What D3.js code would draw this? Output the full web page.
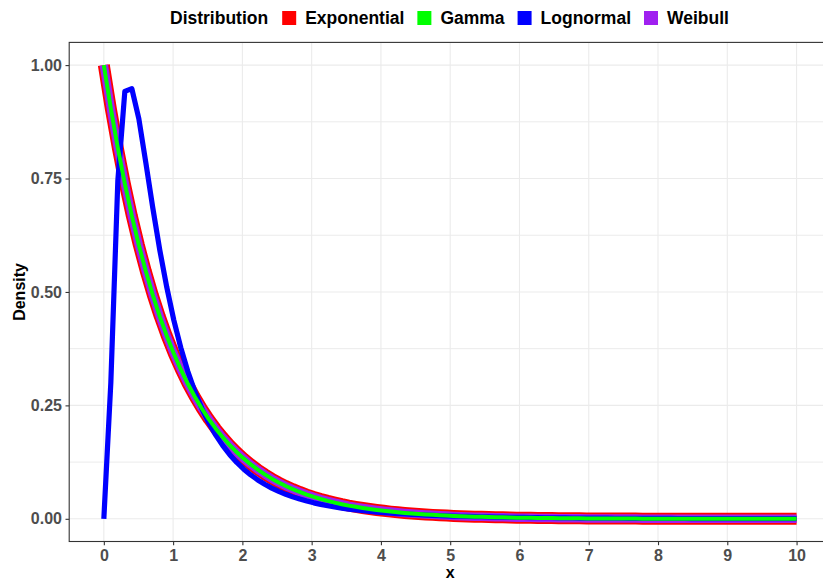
<!DOCTYPE html>
<html>
<head>
<meta charset="utf-8">
<script src="https://cdn.jsdelivr.net/npm/d3@7"></script>
<style>
  html, body { margin: 0; padding: 0; background: #ffffff; }
  svg { display: block; font-family: "Liberation Sans", Arial, Helvetica, sans-serif; }
</style>
</head>
<body>
<svg id="chart" width="823" height="585"></svg>
<script>
// Evaluation grid: 100 evenly spaced points on [0, 10]
const xGrid = d3.range(100).map(i => i * 10 / 99);

// Exponential(rate = 1) density on the grid.
// Gamma(shape = 1, rate = 1) and Weibull(shape = 1, scale = 1) give the same curve.
const exponentialDensity = [
  1.0000, 0.9039, 0.8171, 0.7386, 0.6676, 0.6035, 0.5455, 0.4931, 0.4457, 0.4029,
  0.3642, 0.3292, 0.2976, 0.2690, 0.2431, 0.2198, 0.1987, 0.1796, 0.1623, 0.1467,
  0.1326, 0.1199, 0.1084, 0.0980, 0.0885, 0.0800, 0.0723, 0.0654, 0.0591, 0.0534,
  0.0483, 0.0437, 0.0395, 0.0357, 0.0322, 0.0291, 0.0264, 0.0238, 0.0215, 0.0195,
  0.0176, 0.0159, 0.0144, 0.0130, 0.0117, 0.0106, 0.0096, 0.0087, 0.0078, 0.0071,
  0.0064, 0.0058, 0.0052, 0.0047, 0.0043, 0.0039, 0.0035, 0.0032, 0.0029, 0.0026,
  0.0023, 0.0021, 0.0019, 0.0017, 0.0016, 0.0014, 0.0013, 0.0012, 0.0010, 0.0009,
  0.0009, 0.0008, 0.0007, 0.0006, 0.0006, 0.0005, 0.0005, 0.0004, 0.0004, 0.0003,
  0.0003, 0.0003, 0.0003, 0.0002, 0.0002, 0.0002, 0.0002, 0.0001, 0.0001, 0.0001,
  0.0001, 0.0001, 0.0001, 0.0001, 0.0001, 0.0001, 0.0001, 0.0001, 0.0001, 0.0001
];
const gammaDensity = exponentialDensity;
const weibullDensity = exponentialDensity;

// Lognormal density on the grid
const lognormalDensity = [
  0.0000, 0.3000, 0.7450, 0.9420, 0.9480, 0.8820, 0.7850, 0.6850, 0.5920, 0.5100,
  0.4380, 0.3770, 0.3250, 0.2810, 0.2436, 0.2117, 0.1845, 0.1613, 0.1414, 0.1242,
  0.1095, 0.0967, 0.0857, 0.0761, 0.0677, 0.0604, 0.0540, 0.0484, 0.0435, 0.0391,
  0.0352, 0.0318, 0.0288, 0.0261, 0.0237, 0.0215, 0.0196, 0.0178, 0.0163, 0.0149,
  0.0136, 0.0125, 0.0115, 0.0106, 0.0098, 0.0090, 0.0083, 0.0076, 0.0070, 0.0065,
  0.0060, 0.0056, 0.0052, 0.0049, 0.0045, 0.0042, 0.0039, 0.0037, 0.0034, 0.0032,
  0.0030, 0.0028, 0.0026, 0.0024, 0.0023, 0.0021, 0.0020, 0.0018, 0.0017, 0.0016,
  0.0015, 0.0014, 0.0013, 0.0012, 0.0012, 0.0011, 0.0010, 0.0010, 0.0009, 0.0009,
  0.0008, 0.0008, 0.0007, 0.0007, 0.0006, 0.0006, 0.0006, 0.0005, 0.0005, 0.0005,
  0.0005, 0.0004, 0.0004, 0.0004, 0.0004, 0.0004, 0.0003, 0.0003, 0.0003, 0.0003
];

const distributions = ["Exponential", "Gamma", "Lognormal", "Weibull"];
const distributionColors = ["#FF0000", "#00FF00", "#0000FF", "#A020F0"];

const xTicks = [0, 1, 2, 3, 4, 5, 6, 7, 8, 9, 10];
const yTicks = [0, 0.25, 0.5, 0.75, 1.0];
const yTickLabels = ["0.00", "0.25", "0.50", "0.75", "1.00"];
const yMinorTicks = [0.125, 0.375, 0.625, 0.875];

// Layers drawn back to front; each wider stroke shows as a rim around the next
const layers = [
  { name: "Exponential", values: exponentialDensity, width: 12 },
  { name: "Weibull",     values: weibullDensity,     width: 8.5 },
  { name: "Lognormal",   values: lognormalDensity,   width: 5.2 },
  { name: "Gamma",       values: gammaDensity,       width: 4 }
];

const svg = d3.select("#chart");
const W = 823, H = 585;
const panel = { left: 69.2, right: 831.2, top: 42.4, bottom: 541.5 };

const color = d3.scaleOrdinal().domain(distributions).range(distributionColors);
const x = d3.scaleLinear().domain([-0.5, 10.5]).range([panel.left, panel.right]);
const y = d3.scaleLinear().domain([-0.05, 1.05]).range([panel.bottom, panel.top]);

svg.append("rect").attr("width", W).attr("height", H).attr("fill", "#ffffff");

// Clip everything inside the panel
svg.append("defs").append("clipPath").attr("id", "panel-clip")
  .append("rect")
  .attr("x", panel.left).attr("y", panel.top)
  .attr("width", panel.right - panel.left).attr("height", panel.bottom - panel.top);

const grid = svg.append("g").attr("clip-path", "url(#panel-clip)");
grid.selectAll("line.yminor").data(yMinorTicks).join("line")
  .attr("x1", panel.left).attr("x2", panel.right)
  .attr("y1", d => y(d)).attr("y2", d => y(d))
  .attr("stroke", "#ebebeb").attr("stroke-width", 1);
grid.selectAll("line.ymajor").data(yTicks).join("line")
  .attr("x1", panel.left).attr("x2", panel.right)
  .attr("y1", d => y(d)).attr("y2", d => y(d))
  .attr("stroke", "#ebebeb").attr("stroke-width", 1.1);
grid.selectAll("line.xmajor").data(xTicks).join("line")
  .attr("y1", panel.top).attr("y2", panel.bottom)
  .attr("x1", d => x(d)).attr("x2", d => x(d))
  .attr("stroke", "#ebebeb").attr("stroke-width", 1.1);

// Density curves
const line = d3.line().x((d, i) => x(xGrid[i])).y(d => y(d));
const curves = svg.append("g").attr("clip-path", "url(#panel-clip)");
layers.forEach(l => {
  curves.append("path")
    .datum(l.values)
    .attr("d", line)
    .attr("fill", "none")
    .attr("stroke", color(l.name))
    .attr("stroke-width", l.width)
    .attr("stroke-linejoin", "round")
    .attr("stroke-linecap", "butt");
});

// Panel border
svg.append("rect")
  .attr("x", panel.left).attr("y", panel.top)
  .attr("width", panel.right - panel.left).attr("height", panel.bottom - panel.top)
  .attr("fill", "none").attr("stroke", "#333333").attr("stroke-width", 1.1);

// Axes
const xAxis = d3.axisBottom(x).tickValues(xTicks).tickSize(3.7).tickPadding(4)
  .tickFormat(d3.format("d"));
const gx = svg.append("g").attr("transform", `translate(0,${panel.bottom})`).call(xAxis);
gx.select(".domain").remove();
gx.selectAll(".tick line").attr("stroke", "#333333").attr("stroke-width", 1.1);
gx.selectAll(".tick text")
  .attr("fill", "#4d4d4d").attr("font-size", 16).attr("font-weight", "bold")
  .attr("font-family", "Liberation Sans, Arial, sans-serif");

const yAxis = d3.axisLeft(y).tickValues(yTicks).tickSize(3.7).tickPadding(3.5)
  .tickFormat((d, i) => yTickLabels[i]);
const gy = svg.append("g").attr("transform", `translate(${panel.left},0)`).call(yAxis);
gy.select(".domain").remove();
gy.selectAll(".tick line").attr("stroke", "#333333").attr("stroke-width", 1.1);
gy.selectAll(".tick text")
  .attr("fill", "#4d4d4d").attr("font-size", 16).attr("font-weight", "bold")
  .attr("font-family", "Liberation Sans, Arial, sans-serif");

// Axis titles
svg.append("text")
  .attr("x", (panel.left + panel.right) / 2).attr("y", 578)
  .attr("text-anchor", "middle")
  .attr("font-size", 16).attr("font-weight", "bold").attr("fill", "#000000")
  .text("x");
svg.append("text")
  .attr("transform", `translate(25,${(panel.top + panel.bottom) / 2}) rotate(-90)`)
  .attr("text-anchor", "middle")
  .attr("font-size", 16).attr("font-weight", "bold").attr("fill", "#000000")
  .text("Density");

// Legend across the top
const legend = svg.append("g");
const legendBaseline = 24;
const legendFont = 17.5;
const title = legend.append("text")
  .attr("x", 170).attr("y", legendBaseline)
  .attr("font-size", legendFont).attr("font-weight", "bold").attr("fill", "#000000")
  .text("Distribution");
let cursor = 170 + title.node().getComputedTextLength() + 14;
distributions.forEach(name => {
  legend.append("rect")
    .attr("x", cursor).attr("y", 11)
    .attr("width", 14).attr("height", 14)
    .attr("fill", color(name));
  const t = legend.append("text")
    .attr("x", cursor + 23).attr("y", legendBaseline)
    .attr("font-size", legendFont).attr("font-weight", "bold").attr("fill", "#000000")
    .text(name);
  cursor += 23 + t.node().getComputedTextLength() + 13;
});
</script>
</body>
</html>
